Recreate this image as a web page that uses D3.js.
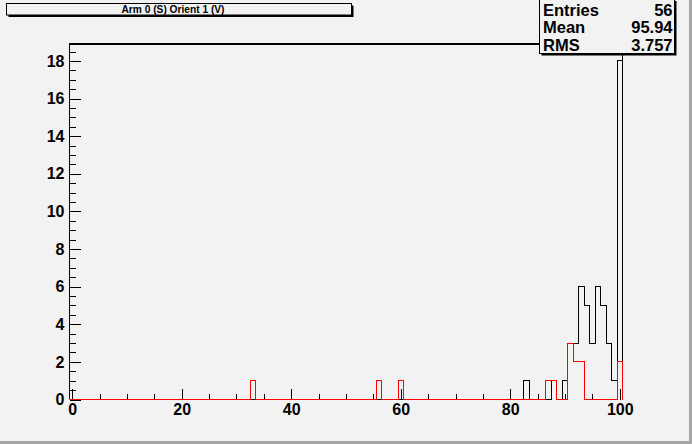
<!DOCTYPE html>
<html><head><meta charset="utf-8">
<script src="https://cdn.jsdelivr.net/npm/d3@7"></script>
<style>html,body{margin:0;padding:0;background:#f2f2f2;}svg{display:block;}</style>
</head><body>
<script>
// ---- data ----
const title = "Arm 0 (S) Orient 1 (V)";
const xMin = -0.5, xMax = 100.5, nBins = 101;
const blackBins   = [83, 88, 90, 91, 92, 93, 94, 95, 96, 97, 98, 99, 100];
const blackCounts = [ 1,  1,  1,  3,  3,  6,  5,  3,  6,  5,  3,  1,  18];
const redBins     = [33, 56, 60, 87, 88, 91, 92, 93, 100];
const redCounts   = [ 1,  1,  1,  1,  1,  3,  2,  2,  2];
const xTickLabels = [0, 20, 40, 60, 80, 100];
const yTickLabels = [0, 2, 4, 6, 8, 10, 12, 14, 16, 18];
const statNames  = ["Entries", "Mean", "RMS"];
const statValues = ["56", "95.94", "3.757"];
const yMax = 18.9;

const W = 692, H = 444;
const svg = d3.select("body").append("svg").attr("width", W).attr("height", H);
svg.append("rect").attr("width", W).attr("height", H).attr("fill", "#f2f2f2");
// canvas bevel
svg.append("rect").attr("x", 0).attr("y", H - 3).attr("width", W).attr("height", 3).attr("fill", "#a6a6a6");
svg.append("rect").attr("x", W - 3).attr("y", 0).attr("width", 3).attr("height", H).attr("fill", "#a6a6a6");

const x = d3.scaleLinear().domain([xMin, xMax]).range([69.5, 622.5]);
const y = d3.scaleLinear().domain([0, yMax]).range([399.5, 44]);

function fullCounts(bins, counts) {
  const arr = new Array(nBins).fill(0);
  bins.forEach((b, i) => { arr[b] = counts[i]; });
  return arr;
}
function histPoints(arr) {
  const pts = [[xMin, 0]];
  arr.forEach((c, i) => {
    const lo = xMin + i, hi = lo + 1;
    pts.push([lo, c], [hi, c]);
  });
  pts.push([xMax, 0]);
  return pts;
}
const line = d3.line().x(d => x(d[0])).y(d => y(d[1]));

// frame right edge
svg.append("line").attr("x1", x(xMax)).attr("x2", x(xMax)).attr("y1", 44).attr("y2", y(0))
  .attr("stroke", "#000").attr("stroke-width", 1);

// axes
const font = "'Liberation Sans', Arial, Helvetica, sans-serif";
const yMinor = d3.range(0, yMax, 0.5);
const xMinor = d3.range(0, 101, 5);

const yAxisMinor = d3.axisLeft(y).tickValues(yMinor).tickSize(-6).tickFormat("");
const yAxis = d3.axisLeft(y).tickValues(yTickLabels).tickSize(-11).tickPadding(5).tickFormat(d3.format("d"));
const xAxisMinor = d3.axisBottom(x).tickValues(xMinor).tickSize(-5.5).tickFormat("");
const xAxis = d3.axisBottom(x).tickValues(xTickLabels).tickSize(-11).tickPadding(4.5).tickFormat(d3.format("d"));

function styleAxis(g) {
  g.select(".domain").remove();
  g.selectAll("line").attr("stroke", "#000").attr("shape-rendering", "crispEdges");
  g.selectAll("text").attr("fill", "#000").style("font-family", font)
    .style("font-weight", "bold").style("font-size", "16px");
}
svg.append("g").attr("transform", `translate(${x(xMin)},0)`).call(yAxisMinor).call(styleAxis);
svg.append("g").attr("transform", `translate(${x(xMin)},0)`).call(yAxis).call(styleAxis);
svg.append("g").attr("transform", `translate(0,${y(0)})`).call(xAxisMinor).call(styleAxis);
svg.append("g").attr("transform", `translate(0,${y(0)})`).call(xAxis).call(styleAxis);

// left axis line + top frame line
svg.append("line").attr("x1", x(xMin)).attr("x2", x(xMin)).attr("y1", 43).attr("y2", y(0))
  .attr("stroke", "#000").attr("stroke-width", 1);
svg.append("line").attr("x1", x(xMin) - 0.5).attr("x2", x(xMax) + 0.5).attr("y1", 44).attr("y2", 44)
  .attr("stroke", "#000").attr("stroke-width", 2);

// histograms
svg.append("path").datum(histPoints(fullCounts(blackBins, blackCounts))).attr("d", line)
  .attr("fill", "none").attr("stroke", "#000").attr("stroke-width", 1).attr("shape-rendering", "crispEdges");
svg.append("path").datum(histPoints(fullCounts(redBins, redCounts))).attr("d", line)
  .attr("fill", "none").attr("stroke", "#ff0000").attr("stroke-width", 1).attr("shape-rendering", "crispEdges");

// title box
const tb = {x: 6.5, y: 3.5, w: 345, h: 11.5};
svg.append("rect").attr("x", tb.x + 2).attr("y", tb.y + 2).attr("width", tb.w).attr("height", tb.h).attr("fill", "#000");
svg.append("rect").attr("x", tb.x).attr("y", tb.y).attr("width", tb.w).attr("height", tb.h)
  .attr("fill", "#f2f2f2").attr("stroke", "#000").attr("stroke-width", 1);
svg.append("text").attr("x", tb.x + tb.w / 2 - 6).attr("y", 13).attr("text-anchor", "middle")
  .style("font-family", font).style("font-weight", "bold").style("font-size", "10.2px").text(title);

// stats box
const sb = {x: 539.5, y: -1, w: 135, h: 54.5};
svg.append("rect").attr("x", sb.x + 2).attr("y", sb.y + 2).attr("width", sb.w).attr("height", sb.h).attr("fill", "#000");
svg.append("rect").attr("x", sb.x).attr("y", sb.y).attr("width", sb.w).attr("height", sb.h)
  .attr("fill", "#f2f2f2").attr("stroke", "#000").attr("stroke-width", 1);
const baselines = [15.5, 33, 50.5];
statNames.forEach((n, i) => {
  svg.append("text").attr("x", 543).attr("y", baselines[i])
    .style("font-family", font).style("font-weight", "bold").style("font-size", "16.5px").text(n);
  svg.append("text").attr("x", 672.5).attr("y", baselines[i]).attr("text-anchor", "end")
    .style("font-family", font).style("font-weight", "bold").style("font-size", "16.5px").text(statValues[i]);
});
</script>
</body></html>
